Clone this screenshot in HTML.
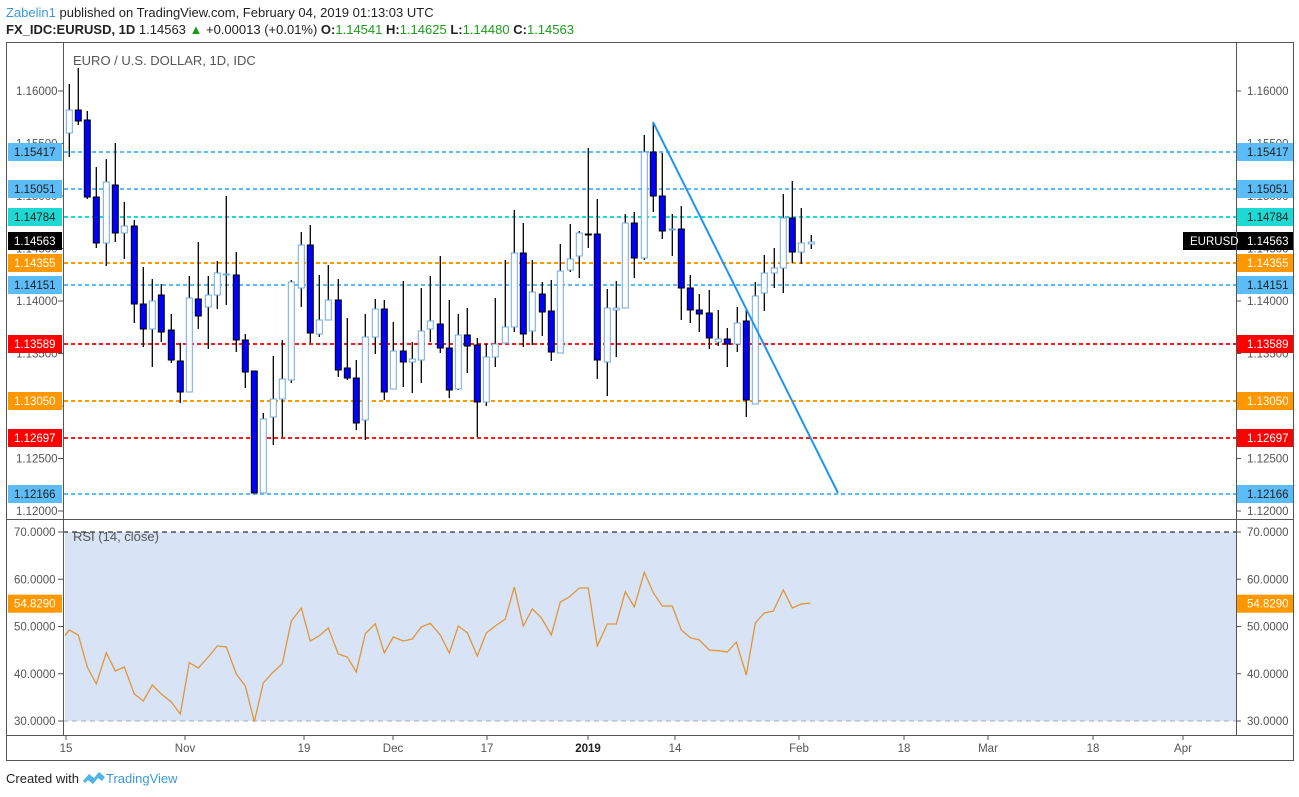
<!DOCTYPE html>
<html><head><meta charset="utf-8"><style>
body{margin:0;background:#fff;width:1299px;height:797px;overflow:hidden;font-family:"Liberation Sans",sans-serif}
svg{position:absolute;left:0;top:0}
</style></head><body>
<svg id="s" width="1299" height="797" xmlns="http://www.w3.org/2000/svg" font-family="Liberation Sans, sans-serif">
<text x="6" y="17" font-size="13" fill="#3a9ad9">Zabelin1 <tspan fill="#222">published on TradingView.com, February 04, 2019 01:13:03 UTC</tspan></text>
<text x="6" y="34" font-size="13" fill="#222"><tspan font-weight="bold">FX_IDC:EURUSD, 1D</tspan> 1.14563 <tspan fill="#1a9e1a">▲</tspan> +0.00013 (+0.01%) <tspan font-weight="bold">O:</tspan><tspan fill="#1a9e1a">1.14541</tspan> <tspan font-weight="bold">H:</tspan><tspan fill="#1a9e1a">1.14625</tspan> <tspan font-weight="bold">L:</tspan><tspan fill="#1a9e1a">1.14480</tspan> <tspan font-weight="bold">C:</tspan><tspan fill="#1a9e1a">1.14563</tspan></text>
<rect x="6.5" y="42.5" width="1287" height="718" fill="none" stroke="#555"/>
<rect x="65" y="532" width="1171" height="189" fill="#d8e4f6"/>
<line x1="63" y1="532" x2="1236" y2="532" stroke="#000" stroke-dasharray="5,4"/>
<line x1="63" y1="721" x2="1236" y2="721" stroke="#aab" stroke-dasharray="5,4"/>
<line x1="63.5" y1="42" x2="63.5" y2="735" stroke="#555"/>
<line x1="1236.5" y1="42" x2="1236.5" y2="735" stroke="#555"/>
<line x1="6" y1="519.5" x2="1293" y2="519.5" stroke="#555"/>
<line x1="6" y1="735.5" x2="1293" y2="735.5" stroke="#555"/>
<text x="73" y="65" font-size="13" fill="#555">EURO / U.S. DOLLAR, 1D, IDC</text>
<text x="73" y="541" font-size="13" fill="#555">RSI (14, close)</text>
<g id="g"></g>
<text x="6" y="783" font-size="13" fill="#222">Created with</text>
<path d="M83 781 l6 -7 l5 4 l5 -6 l6 5 l-3 4 l-4 -3 l-5 6 l-5 -4 l-3 3z" fill="#4fb3e8"/>
<text x="106" y="783" font-size="13" fill="#3a9ad9">TradingView</text>
</svg>
<script>
var g=document.getElementById('g'),h='';
var Y=p=>91+(1.16-p)*10500;
[[1.16,'1.16000'],[1.155,'1.15500'],[1.15,'1.15000'],[1.145,'1.14500'],[1.14,'1.14000'],[1.135,'1.13500'],[1.13,'1.13000'],[1.125,'1.12500'],[1.12,'1.12000']].forEach(a=>{var y=Y(a[0]);
h+=`<text x="16" y="${y+4}" font-size="11.5" fill="#555">${a[1]}</text><line x1="58" y1="${y}" x2="63" y2="${y}" stroke="#555"/>`;
h+=`<text x="1247" y="${y+4}" font-size="11.5" fill="#555">${a[1]}</text><line x1="1236" y1="${y}" x2="1241" y2="${y}" stroke="#555"/>`;});
[[70,'70.0000'],[60,'60.0000'],[50,'50.0000'],[40,'40.0000'],[30,'30.0000']].forEach(a=>{var y=532+(70-a[0])*4.725;
h+=`<text x="14" y="${y+4}" font-size="11.5" fill="#555">${a[1]}</text><line x1="58" y1="${y}" x2="63" y2="${y}" stroke="#555"/>`;
h+=`<text x="1247" y="${y+4}" font-size="11.5" fill="#555">${a[1]}</text><line x1="1236" y1="${y}" x2="1241" y2="${y}" stroke="#555"/>`;});
var L=[[152,'1.15417','#5bbcf8','#5bbcf8','#222'],[189,'1.15051','#5bbcf8','#5bbcf8','#222'],[217,'1.14784','#1ed8d4','#1ed8d4','#222'],[263,'1.14355','#ff9800','#ff9800','#fff'],[285,'1.14151','#5bbcf8','#5bbcf8','#222'],[344,'1.13589','#ff1a1a','#f00','#fff'],[401,'1.13050','#ff9800','#ff9800','#fff'],[438,'1.12697','#ff1a1a','#f00','#fff'],[494,'1.12166','#5bbcf8','#5bbcf8','#222']];
L.forEach(l=>{h+=`<line x1="64" y1="${l[0]}" x2="1236" y2="${l[0]}" stroke="${l[2]}" stroke-width="2" stroke-dasharray="4,3"/>`;});
L.concat([[241,'1.14563','#000','#000','#fff']]).forEach(l=>{
h+=`<rect x="8" y="${l[0]-9}" width="54" height="18" fill="${l[3]}"/><text x="14" y="${l[0]+4}" font-size="11.5" fill="${l[4]}">${l[1]}</text>`;
h+=`<rect x="1237" y="${l[0]-9}" width="56" height="18" fill="${l[3]}"/><text x="1247" y="${l[0]+4}" font-size="11.5" fill="${l[4]}">${l[1]}</text>`;});
h+=`<rect x="1183" y="232" width="53" height="18" fill="#000"/><text x="1190" y="245" font-size="11.5" fill="#fff">EURUSD</text>`;
var C=[[69.3,84,110,133,157,1],[78.3,68,110,121,125,0],[87.3,111,120,197,199,0],[96.3,167,197,243,248,0],[106.3,159,182,243,266,1],[115.3,143,185,233,242,0],[124.3,202,226,233,259,1],[134.3,220,226,304,323,0],[143.3,267,304,329,347,0],[152.3,279,301,329,367,1],[161.3,284,295,332,342,0],[171.3,314,330,360,363,0],[180.3,343,361,392,403,0],[189.3,276,298,392,392,1],[198.3,242,299,316,329,0],[208.3,276,295,307,349,1],[217.3,261,273,295,309,1],[226.3,196,274,275,305,1],[236.3,252,275,340,352,0],[245.3,334,340,372,388,0],[254.3,371,371,493,493,0],[263.3,413,419,493,493,1],[273.3,356,399,417,445,1],[282.3,340,379,399,437,1],[291.3,280,282,380,383,1],[301.3,232,245,288,307,1],[310.3,225,245,333,343,0],[319.3,275,320,334,337,1],[328.3,265,300,320,320,1],[338.3,279,300,370,377,0],[347.3,318,368,378,380,0],[356.3,360,378,423,430,0],[365.3,314,337,420,440,1],[375.3,299,309,337,354,1],[384.3,300,309,392,400,0],[393.3,322,351,389,389,1],[403.3,281,351,362,387,0],[412.3,342,359,362,393,1],[421.3,288,331,360,383,1],[430.3,276,321,329,342,1],[440.3,256,324,348,353,0],[449.3,300,348,390,398,0],[458.3,314,335,389,390,1],[467.3,308,335,346,373,0],[477.3,338,345,402,437,0],[486.3,344,357,402,406,1],[495.3,298,344,357,367,1],[505.3,260,327,343,343,1],[514.3,210,253,327,332,1],[523.3,223,253,334,347,0],[532.3,260,292,331,345,1],[542.3,282,294,312,336,0],[551.3,280,311,352,361,0],[560.3,244,271,353,353,1],[570.3,224,259,270,272,1],[579.3,231,233,256,278,1],[588.3,148,234,235,248,0],[597.3,199,234,360,379,0],[607.3,289,308,362,396,1],[616.3,281,308,310,357,1],[625.3,214,223,308,308,1],[634.3,212,223,258,278,0],[644.3,135,152,258,260,1],[653.3,122,152,196,212,0],[662.3,153,196,231,239,0],[672.3,214,229,230,256,1],[681.3,206,229,288,320,0],[690.3,275,288,310,323,0],[699.3,294,310,314,332,0],[709.3,290,313,338,349,0],[718.3,310,339,342,346,1],[727.3,328,339,344,367,0],[737.3,307,323,344,352,1],[746.3,310,321,400,417,0],[755.3,282,296,404,404,1],[764.3,255,273,293,311,1],[774.3,248,268,273,288,1],[783.3,194,218,268,293,1],[792.3,181,218,252,263,0],[801.3,208,243,252,264,1],[811.3,235,242,244,249,1]];
C.forEach(c=>{h+=`<line x1="${c[0]}" y1="${c[1]}" x2="${c[0]}" y2="${c[4]}" stroke="#000" stroke-width="1.3"/>`;
var hh=Math.max(c[3]-c[2],1);
h+=`<rect x="${c[0]-3}" y="${c[2]}" width="6" height="${hh}" fill="${c[5]?'#fff':'#0000ff'}" stroke="${c[5]?'#6fa8dc':'#000'}" stroke-width="1"/>`;});
h+=`<line x1="653" y1="122" x2="838" y2="493" stroke="#1e96f0" stroke-width="2"/>`;
var R=[[65,635.7],[69.3,630],[78.3,635],[87.3,667],[96.3,684],[106.3,652.7],[115.3,671],[124.3,667],[134.3,694],[143.3,701],[152.3,685],[161.3,694],[171.3,702],[180.3,714],[189.3,662.7],[198.3,668],[208.3,657],[217.3,646],[226.3,647],[236.3,674],[245.3,686],[254.3,721.7],[263.3,683],[272.3,673],[282.3,663.7],[291.3,621],[301.3,608],[310.3,641],[319.3,635.7],[328.3,628],[338.3,654],[347.3,657],[356.3,672],[365.3,633.7],[375.3,623.7],[384.3,653],[393.3,637],[403.3,641],[412.3,639],[421.3,627],[430.3,623.3],[440.3,635],[449.3,653],[458.3,626],[467.3,632.7],[477.3,656],[486.3,633],[495.3,626],[505.3,619],[514.3,587],[523.3,626],[532.3,609],[541.3,617.7],[551.3,635],[560.3,602],[569.3,597],[579.3,588],[588.3,588],[597.3,646],[607.3,624],[616.3,624],[625.3,591.7],[634.3,607],[644.3,572.3],[653.3,592.7],[662.3,606],[672.3,606],[681.3,630],[690.3,637.7],[699.3,640],[709.3,650],[718.3,650.7],[727.3,652],[736.3,642],[746.3,675],[755.3,623],[764.3,613],[773.3,611],[783.3,590],[792.3,608],[801.3,604],[810.3,603]];
h+=`<polyline fill="none" stroke="#e0953a" stroke-width="1.3" points="${R.map(p=>p.join(',')).join(' ')}"/>`;
var rl=532+(70-54.829)*4.725;
h+=`<rect x="8" y="${rl-9}" width="54" height="18" fill="#ff9800"/><text x="14" y="${rl+4}" font-size="11.5" fill="#fff">54.8290</text>`;
h+=`<rect x="1237" y="${rl-9}" width="56" height="18" fill="#ff9800"/><text x="1247" y="${rl+4}" font-size="11.5" fill="#fff">54.8290</text>`;
[[66,'15'],[185,'Nov'],[304,'19'],[393,'Dec'],[487,'17'],[588,'2019',1],[675,'14'],[799,'Feb'],[904,'18'],[988,'Mar'],[1093,'18'],[1183,'Apr']].forEach(t=>{
h+=`<line x1="${t[0]}" y1="735" x2="${t[0]}" y2="740" stroke="#555"/><text x="${t[0]}" y="752" font-size="11.5" text-anchor="middle" fill="${t[2]?'#222':'#555'}" ${t[2]?'font-weight="bold"':''}>${t[1]}</text>`;});
g.innerHTML=h;
</script>
</body></html>
